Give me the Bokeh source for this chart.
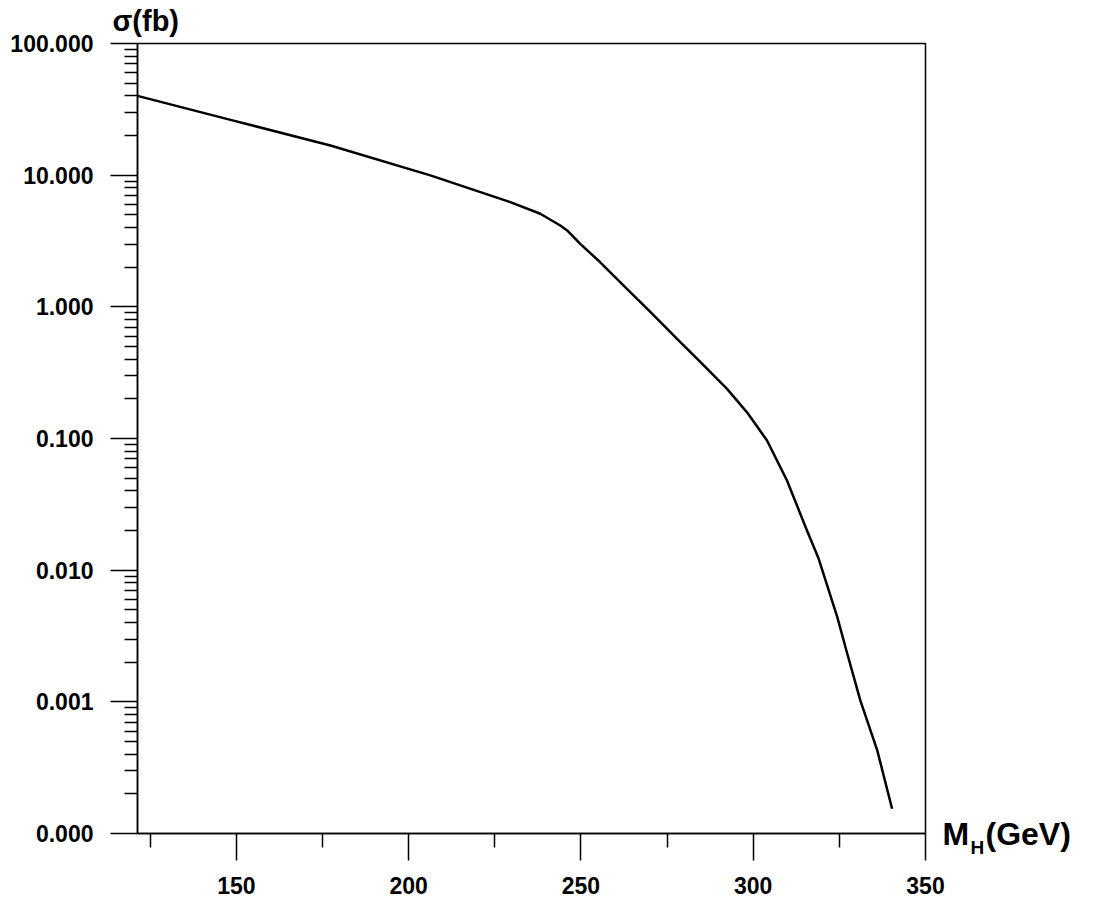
from bokeh.plotting import figure
from bokeh.models import FixedTicker, PrintfTickFormatter, Label, Range1d
from bokeh.embed import file_html
from bokeh.resources import INLINE

# Higgs mass (GeV) and cross section (fb)
mass = [121.3, 148.3, 177.3, 206.3, 229.5, 238.2, 244.0, 246.0, 249.8, 255.6, 262.4,
        270.2, 277.9, 284.7, 292.4, 298.2, 304.0, 309.8, 315.6, 319.0,
        324.4, 327.3, 331.1, 336.0, 340.3]
sigma = [40.0, 26.3, 16.8, 9.96, 6.24, 5.09, 4.15, 3.80, 3.01, 2.18, 1.45,
         0.91, 0.571, 0.380, 0.238, 0.158, 0.0966, 0.048, 0.0200, 0.0122,
         0.0044, 0.00232, 0.00102, 0.000428, 0.000154]

x_major = [150, 200, 250, 300, 350]
x_minor = [125, 175, 225, 275, 325]
y_major = [1e-4, 1e-3, 1e-2, 1e-1, 1.0, 10.0, 100.0]
y_minor = [k * 10.0 ** e for e in range(-4, 2) for k in range(2, 10)]

FONT = "Liberation Sans"

p = figure(width=1106, height=911, x_range=Range1d(121.3, 350),
           y_range=Range1d(1e-4, 100), y_axis_type="log",
           output_backend="svg", toolbar_location=None,
           min_border_left=137, min_border_right=181,
           min_border_top=43, min_border_bottom=78)

p.background_fill_color = "white"
p.border_fill_color = "white"
p.outline_line_color = "black"
p.outline_line_width = 1.5
p.xgrid.visible = False
p.ygrid.visible = False

xa = p.xaxis[0]
xa.ticker = FixedTicker(ticks=x_major, minor_ticks=x_minor)
xa.major_tick_out = 27
xa.major_tick_in = 0
xa.minor_tick_out = 14
xa.minor_tick_in = 0
xa.major_tick_line_width = 1.5
xa.minor_tick_line_width = 1.5
xa.axis_line_width = 1.5
xa.major_label_standoff = 16
xa.major_label_text_font = FONT
xa.major_label_text_font_style = "bold"
xa.major_label_text_font_size = "23px"
xa.major_label_text_color = "black"

ya = p.yaxis[0]
ya.ticker = FixedTicker(ticks=y_major, minor_ticks=y_minor)
ya.formatter = PrintfTickFormatter(format="%.3f")
ya.major_tick_out = 27
ya.major_tick_in = 0
ya.minor_tick_out = 13
ya.minor_tick_in = 0
ya.major_tick_line_width = 1.5
ya.minor_tick_line_width = 1.5
ya.axis_line_width = 1.5
ya.major_label_standoff = 17
ya.major_label_text_font = FONT
ya.major_label_text_font_style = "bold"
ya.major_label_text_font_size = "23px"
ya.major_label_text_color = "black"

p.line(mass, sigma, line_color="black", line_width=2.5, line_join="round")

def lab(x, y, text, size, place):
    p.add_layout(Label(x=x, y=y, x_units="screen", y_units="screen", text=text,
                       text_font=FONT, text_font_style="bold",
                       text_font_size=size, text_color="black",
                       text_baseline="alphabetic", text_align="left"), place)

# y-axis title above the frame
lab(-25, 23, "σ(fb)", "29px", "above")
# x-axis title to the right of the frame, at the level of the axis
lab(17, 0, "M", "32px", "right")
lab(18, -14, "H", "19px", "right")
lab(19, 0, "(GeV)", "32px", "right")

open("out.html", "w").write(file_html(p, INLINE))
